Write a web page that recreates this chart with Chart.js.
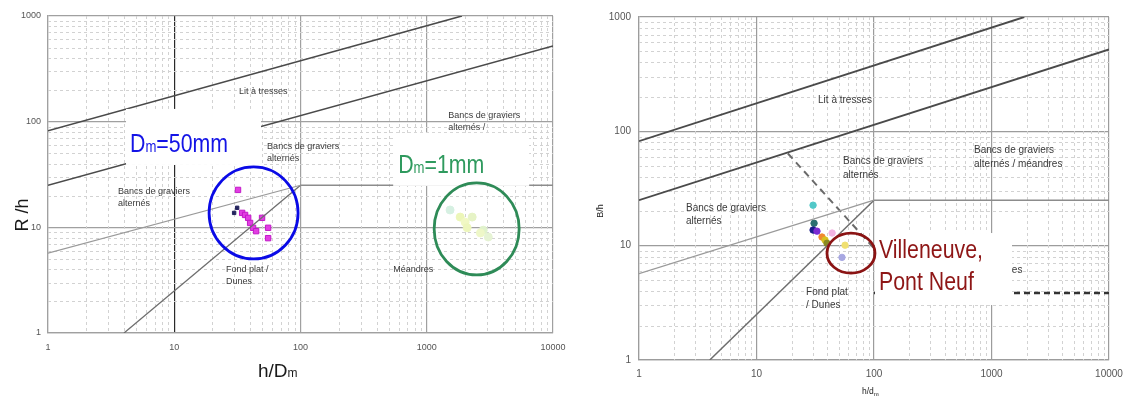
<!DOCTYPE html>
<html>
<head>
<meta charset="utf-8">
<title>Régimes morphologiques</title>
<script src="https://cdn.jsdelivr.net/npm/chart.js@4.4.1/dist/chart.umd.min.js"></script>
<style>
  html, body { margin: 0; padding: 0; background: #fff; }
  #wrap { position: relative; width: 1123px; height: 396px; overflow: hidden; background: #fff; }
  .panel { position: absolute; top: 0; }
  #left { left: 0; width: 575px; height: 396px; }
  #right { left: 575px; width: 548px; height: 396px; }
</style>
</head>
<body>
<div id="wrap">
  <div class="panel" id="left"><canvas id="c1" width="575" height="396"></canvas></div>
  <div class="panel" id="right"><canvas id="c2" width="548" height="396"></canvas></div>
</div>
<script>
// ---- axis ticks ----
const xTicks = [1, 10, 100, 1000, 10000];
const yTicks = [1, 10, 100, 1000];

// ---- regime boundaries (h/D, R/h) ----
const braidedX = [1, 1900];
const braidedY = [82, 1000];
const barsUpperX = [1, 10000];
const barsUpperY = [25, 520];
const barsLowerX = [1, 100];
const barsLowerY = [5.7, 25];
const plateauX = [100, 10000];
const plateauY = [25, 25];
const dunesX = [4, 100];
const dunesY = [1, 25];
const transitionX = [18.5, 100];
const transitionY = [64, 9.5];
const meanderX = [100, 10000];
const meanderY = [3.85, 3.85];

// ---- measurements, left diagram ----
const gravelX = [32, 34.5, 36.4, 38.5, 39.9, 42.1, 44.5, 49.6, 55.4, 55.4];
const gravelY = [22.6, 13.7, 13.1, 12.3, 11.0, 9.9, 9.2, 12.3, 9.9, 7.9];
const gravelDarkX = [31.5, 29.8];
const gravelDarkY = [15.3, 13.7];
const sandX = [1530, 1840, 2015, 2290, 2090, 2800, 2660, 3070];
const sandY = [14.6, 12.5, 11.2, 12.5, 9.9, 9.4, 8.85, 8.1];

// ---- measurements, right diagram (one colour per site) ----
const siteX = [30.3, 30.9, 30.3, 32.7, 36.1, 38.3, 39.8, 44.0, 56.7, 53.4];
const siteY = [22.6, 15.7, 13.7, 13.4, 11.9, 11.2, 10.5, 12.9, 10.1, 7.9];

const siteColors = ['#52c8c8', '#2b6f70', '#1b1b8c', '#7a2ad2', '#f08a30',
                    '#d8c020', '#8a8a22', '#f2b4e2', '#f0e070', '#a8a8e2'];
const sandColors = ['#d6f0e2', '#ecf6b8', '#f1f8c4', '#e6f3c6', '#edf6bc',
                    '#e0f2cc', '#eef7c8', '#e6f3d4'];

const FONT = "'Liberation Sans', Arial, sans-serif";

function pts(xs, ys) { return xs.map((x, i) => ({ x: x, y: ys[i] })); }

function lineDs(xs, ys, color, width, dash) {
  return {
    data: pts(xs, ys), showLine: true, borderColor: color, borderWidth: width,
    borderDash: dash || [], pointRadius: 0, pointHoverRadius: 0, fill: false, tension: 0
  };
}

function pointDs(xs, ys, bg, border, radius, style) {
  return {
    data: pts(xs, ys), showLine: false, pointStyle: style || 'circle',
    pointRadius: radius, pointBackgroundColor: bg, pointBorderColor: border,
    pointBorderWidth: 1, pointHoverRadius: radius
  };
}

// condensed text (narrow sans)
function narrowText(ctx, text, x, y, size, color) {
  ctx.save();
  ctx.translate(x, y);
  ctx.scale(0.82, 1);
  ctx.font = size + 'px ' + FONT;
  ctx.fillStyle = color;
  ctx.textAlign = 'left';
  ctx.textBaseline = 'alphabetic';
  ctx.fillText(text, 0, 0);
  const w = ctx.measureText(text).width * 0.82;
  ctx.restore();
  return w;
}

function makeDecor(cfg) {
  return {
    id: 'decor',
    beforeDatasetsDraw(chart) {
      const { ctx, chartArea: a, scales: { x, y } } = chart;
      ctx.save();
      ctx.beginPath(); ctx.rect(a.left, a.top, a.width, a.height); ctx.clip();
      ctx.strokeStyle = cfg.minorColor; ctx.lineWidth = 1; ctx.setLineDash([3, 3]);
      for (const d of [1, 10, 100, 1000]) {
        for (let k = 2; k < 10; k++) {
          const px = Math.round(x.getPixelForValue(k * d)) + 0.5;
          ctx.beginPath(); ctx.moveTo(px, a.top); ctx.lineTo(px, a.bottom); ctx.stroke();
        }
      }
      for (const d of [1, 10, 100]) {
        for (let k = 2; k < 10; k++) {
          const py = Math.round(y.getPixelForValue(k * d)) + 0.5;
          ctx.beginPath(); ctx.moveTo(a.left, py); ctx.lineTo(a.right, py); ctx.stroke();
        }
      }
      ctx.restore();
    },
    afterDatasetsDraw(chart) {
      const { ctx, scales: { x, y } } = chart;
      ctx.save();
      ctx.font = cfg.labelSize + 'px ' + FONT;
      ctx.fillStyle = '#3a3a3a';
      ctx.textAlign = 'left';
      ctx.textBaseline = 'middle';
      for (const lab of cfg.labels) {
        const px = x.getPixelForValue(lab.at[0]);
        const py = y.getPixelForValue(lab.at[1]);
        lab.lines.forEach((t, i) => ctx.fillText(t, px, py + i * cfg.labelGap));
      }
      ctx.restore();
    },
    afterDraw(chart) {
      const { ctx, scales: { x, y } } = chart;
      ctx.save();
      // axis titles
      const yt = cfg.yTitle;
      ctx.save();
      ctx.translate(yt.x, yt.y);
      ctx.rotate(-Math.PI / 2);
      ctx.font = yt.size + 'px ' + FONT;
      ctx.fillStyle = '#1a1a1a';
      ctx.textAlign = 'center';
      ctx.textBaseline = 'alphabetic';
      ctx.fillText(yt.text, 0, 0);
      ctx.restore();

      const xt = cfg.xTitle;
      ctx.font = xt.size + 'px ' + FONT;
      ctx.fillStyle = '#1a1a1a';
      ctx.textAlign = 'left';
      ctx.textBaseline = 'alphabetic';
      ctx.fillText(xt.text, xt.x, xt.y);
      const w = ctx.measureText(xt.text).width;
      ctx.font = xt.subSize + 'px ' + FONT;
      ctx.fillText(xt.sub, xt.x + w, xt.y + xt.subDrop);

      // call-out boxes
      for (const b of cfg.boxes) {
        const bx = x.getPixelForValue(b.at[0]);
        const by = y.getPixelForValue(b.at[1]);
        ctx.fillStyle = '#ffffff';
        ctx.fillRect(bx, by, b.w, b.h);
        b.lines.forEach((ln) => {
          let cx = bx + ln.dx;
          ln.parts.forEach((p) => {
            cx += narrowText(ctx, p[0], cx, by + ln.dy, p[1], b.color);
          });
        });
      }
      // encircled groups
      for (const c of cfg.rings) {
        const cx = x.getPixelForValue(c.at[0]);
        const cy = y.getPixelForValue(c.at[1]);
        ctx.beginPath();
        ctx.ellipse(cx, cy, c.rx, c.ry, 0, 0, Math.PI * 2);
        ctx.strokeStyle = c.color;
        ctx.lineWidth = 2.8;
        ctx.setLineDash([]);
        ctx.stroke();
      }
      ctx.restore();
    }
  };
}

function makeChart(canvasId, cfg, datasets) {
  const gridColor = (axis) => (ctx) => {
    const v = ctx.tick ? ctx.tick.value : 0;
    return (cfg.darkGrid[axis] && cfg.darkGrid[axis].includes(v)) ? '#2a2a2a' : cfg.majorColor;
  };
  return new Chart(document.getElementById(canvasId), {
    type: 'scatter',
    data: { datasets: datasets },
    options: {
      responsive: false,
      animation: false,
      events: [],
      layout: { padding: { left: 0, right: cfg.padRight, top: cfg.padTop, bottom: 0 } },
      plugins: { legend: { display: false }, tooltip: { enabled: false } },
      scales: {
        x: {
          type: 'logarithmic', min: 1, max: 10000,
          afterBuildTicks: (s) => { s.ticks = xTicks.map((v) => ({ value: v })); },
          afterFit: (s) => { s.height = cfg.xAxisH; s.paddingLeft = 0; s.paddingRight = 0; },
          ticks: {
            autoSkip: false, maxRotation: 0, padding: cfg.xTickPad, color: '#555',
            font: { size: cfg.tickSize, family: FONT },
            callback: (v) => String(v)
          },
          grid: { drawTicks: false, color: gridColor('x'), lineWidth: 1.2 },
          border: { color: cfg.majorColor, width: 1.2 }
        },
        y: {
          type: 'logarithmic', min: 1, max: 1000,
          afterBuildTicks: (s) => { s.ticks = yTicks.map((v) => ({ value: v })); },
          afterFit: (s) => { s.width = cfg.yAxisW; s.paddingTop = 0; s.paddingBottom = 0; },
          ticks: {
            autoSkip: false, padding: cfg.yTickPad, color: '#555',
            font: { size: cfg.tickSize, family: FONT },
            callback: (v) => String(v)
          },
          grid: { drawTicks: false, color: gridColor('y'), lineWidth: 1.2 },
          border: { color: cfg.majorColor, width: 1.2 }
        }
      }
    },
    plugins: [makeDecor(cfg)]
  });
}

// ---------- left diagram: Dm = 50 mm and Dm = 1 mm ----------
const leftCfg = {
  padRight: 22, padTop: 16, yAxisW: 48, xAxisH: 63,
  xTickPad: 9, yTickPad: 7, tickSize: 9,
  majorColor: '#a0a0a0', minorColor: '#d2d2d2',
  darkGrid: { x: [10] },
  labelSize: 9, labelGap: 12,
  labels: [
    { lines: ['Lit à tresses'], at: [32.6, 191] },
    { lines: ['Bancs de graviers', 'alternés /'], at: [1480, 113.5] },
    { lines: ['Bancs de graviers', 'alternés'], at: [54.4, 57.7] },
    { lines: ['Bancs de graviers', 'alternés'], at: [3.59, 21.6] },
    { lines: ['Fond plat /', 'Dunes'], at: [25.7, 3.95] },
    { lines: ['Méandres'], at: [542, 3.95] }
  ],
  yTitle: { text: 'R /h', x: 28, y: 215, size: 18 },
  xTitle: { text: 'h/D', sub: 'm', x: 258, y: 377, size: 19, subSize: 12, subDrop: 0 },
  boxes: [
    { at: [4.15, 132], w: 135, h: 56, color: '#1414e6',
      lines: [{ dx: 4, dy: 43, parts: [['D', 26], ['m', 16], ['=50mm', 26]] }] },
    { at: [542, 78.3], w: 136, h: 53, color: '#2f9a5e',
      lines: [{ dx: 5, dy: 40, parts: [['D', 26], ['m', 16], ['=1mm', 26]] }] }
  ],
  rings: [
    { at: [42.5, 13.7], rx: 44.5, ry: 46, color: '#0a0ae6' },
    { at: [2485, 9.66], rx: 42.5, ry: 46, color: '#2e8b57' }
  ]
};

makeChart('c1', leftCfg, [
  lineDs(braidedX, braidedY, '#4a4a4a', 1.6),
  lineDs(barsUpperX, barsUpperY, '#4a4a4a', 1.6),
  lineDs(barsLowerX, barsLowerY, '#9a9a9a', 1.1),
  lineDs(plateauX, plateauY, '#8c8c8c', 1.5),
  lineDs(dunesX, dunesY, '#6e6e6e', 1.3),
  pointDs(sandX, sandY, sandColors, sandColors, 4, 'circle'),
  pointDs(gravelX, gravelY, '#e23ee2', '#c21ac8', 3.8, 'rect'),
  pointDs(gravelDarkX, gravelDarkY, '#24245e', '#24245e', 2.4, 'rect')
]);

// ---------- right diagram: sites ----------
const rightCfg = {
  padRight: 14, padTop: 17, yAxisW: 64, xAxisH: 36,
  xTickPad: 8, yTickPad: 8, tickSize: 10,
  majorColor: '#9c9c9c', minorColor: '#d2d2d2',
  darkGrid: {},
  labelSize: 10, labelGap: 13.5,
  labels: [
    { lines: ['Lit à tresses'], at: [33.4, 187] },
    { lines: ['Bancs de graviers', 'alternés'], at: [54.5, 54.7] },
    { lines: ['Bancs de graviers', 'alternés / méandres'], at: [710, 68] },
    { lines: ['Bancs de graviers', 'alternés'], at: [2.51, 21.3] },
    { lines: ['Fond plat', '/ Dunes'], at: [26.4, 3.93] },
    { lines: ['Méandres'], at: [767, 6.1] }
  ],
  yTitle: { text: 'B/h', x: 28, y: 211, size: 9 },
  xTitle: { text: 'h/d', sub: 'm', x: 287, y: 394, size: 8.5, subSize: 6, subDrop: 1.5 },
  boxes: [
    { at: [102, 12.9], w: 137, h: 72, color: '#8e1616',
      lines: [
        { dx: 4, dy: 25, parts: [['Villeneuve,', 26]] },
        { dx: 4, dy: 57, parts: [['Pont Neuf', 26]] }
      ] }
  ],
  rings: [
    { at: [63.7, 8.6], rx: 24, ry: 20, color: '#8b1414' }
  ]
};

makeChart('c2', rightCfg, [
  lineDs(braidedX, braidedY, '#4a4a4a', 1.9),
  lineDs(barsUpperX, barsUpperY, '#4a4a4a', 1.9),
  lineDs(barsLowerX, barsLowerY, '#9a9a9a', 1.2),
  lineDs(plateauX, plateauY, '#8c8c8c', 1.5),
  lineDs(dunesX, dunesY, '#6e6e6e', 1.5),
  lineDs(transitionX, transitionY, '#6a6a6a', 2, [7, 5]),
  lineDs(meanderX, meanderY, '#333333', 2.6, [6, 4]),
  pointDs(siteX, siteY, siteColors, siteColors, 3.2, 'circle')
]);
</script>
</body>
</html>
